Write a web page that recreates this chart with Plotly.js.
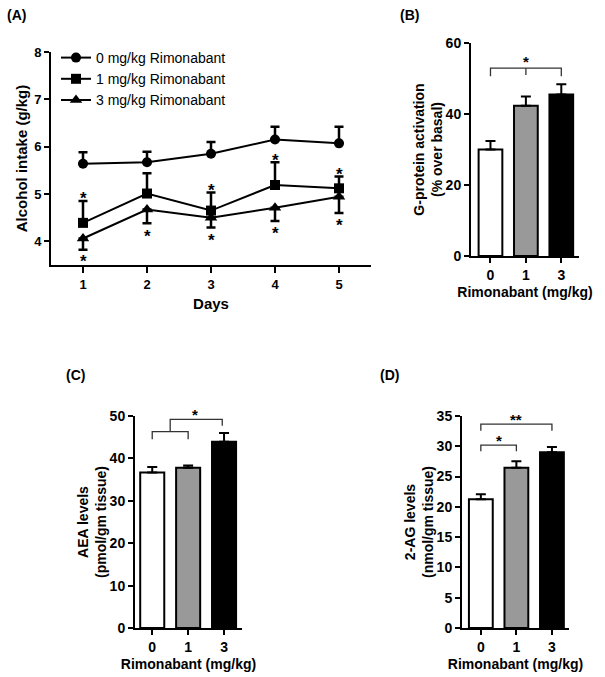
<!DOCTYPE html>
<html>
<head>
<meta charset="utf-8">
<script src="https://cdn.plot.ly/plotly-3.0.1.min.js"></script>
<style>
  html, body { margin: 0; padding: 0; background: #fff; }
  #chart { width: 605px; height: 677px; }
</style>
</head>
<body>
<div id="chart"></div>
<script>
// panel A: alcohol intake per day
const days = [1, 2, 3, 4, 5];
const intake0 = [5.64, 5.67, 5.85, 6.15, 6.07];
const intake0Err = [0.24, 0.22, 0.25, 0.27, 0.35];
const intake1 = [4.39, 5.01, 4.65, 5.19, 5.12];
const intake1Err = [0.46, 0.43, 0.38, 0.48, 0.25];
const intake3 = [4.06, 4.67, 4.50, 4.71, 4.94];
const intake3Err = [0.24, 0.29, 0.21, 0.28, 0.34];
const starsAbove = [4.99, null, 5.15, 5.79, 5.50];
const starsBelow = [3.65, 4.19, 4.11, 4.25, 4.41];

// panels B, C, D: bar charts by dose
const doses = ['0', '1', '3'];
const gProtein = [30.0, 42.3, 45.5];
const gProteinErr = [2.4, 2.6, 2.9];
const aea = [36.7, 37.8, 43.9];
const aeaErr = [1.3, 0.5, 2.1];
const twoAg = [21.25, 26.45, 29.0];
const twoAgErr = [0.85, 1.1, 0.9];

// significance brackets (x path, y path) and their labels
const bracketsB = [
  { x: [0, 0, 2, 2], y: [50.6, 52.9, 52.9, 50.6] },
  { x: [1, 1], y: [52.9, 51.0] }
];
const starsB = [{ x: 1, y: 55.5, text: '*' }];
const bracketsC = [
  { x: [0, 0, 1, 1], y: [44.5, 46.3, 46.3, 44.5] },
  { x: [0.5, 0.5, 1.95, 1.95], y: [46.3, 49.2, 49.2, 47.7] }
];
const starsC = [{ x: 1.2, y: 51.0, text: '*' }];
const bracketsD = [
  { x: [0, 0, 1, 1], y: [29.2, 30.2, 30.2, 29.2] },
  { x: [0, 0, 2, 2], y: [32.55, 33.65, 33.65, 32.55] }
];
const starsD = [{ x: 0.5, y: 31.5, text: '*' }, { x: 1.0, y: 35.0, text: '**' }];

const W = 605, H = 677;
const FONT = 'Arial, "Liberation Sans", sans-serif';
const px = v => v / W;
const py = v => 1 - v / H;
const barColors = ['#ffffff', '#999999', '#000000'];

function lineTrace(y, err, up, symbol, size, name) {
  return {
    x: days, y: y, name: name, type: 'scatter', mode: 'lines+markers',
    xaxis: 'x', yaxis: 'y',
    line: { color: '#000', width: 2 },
    marker: { color: '#000', symbol: symbol, size: size },
    error_y: {
      type: 'data', symmetric: false,
      array: up ? err : err.map(() => 0),
      arrayminus: up ? err.map(() => 0) : err,
      color: '#000', thickness: 2.5, width: 4.5
    }
  };
}

function barTrace(vals, err, ax) {
  return {
    x: [0, 1, 2], y: vals, type: 'bar', showlegend: false,
    xaxis: 'x' + ax, yaxis: 'y' + ax, width: 0.67,
    marker: { color: barColors, line: { color: '#000', width: 2 } },
    error_y: {
      type: 'data', symmetric: false, array: err, arrayminus: err.map(() => 0),
      color: '#000', thickness: 2, width: 5
    }
  };
}

function bracketTraces(list, ax) {
  return list.map(b => ({
    x: b.x, y: b.y, type: 'scatter', mode: 'lines', showlegend: false,
    xaxis: 'x' + ax, yaxis: 'y' + ax, hoverinfo: 'skip', cliponaxis: false,
    line: { color: '#333', width: 1.3 }
  }));
}

const data = [
  lineTrace(intake0, intake0Err, true, 'circle', 10, '0 mg/kg Rimonabant'),
  lineTrace(intake1, intake1Err, true, 'square', 10, '1 mg/kg Rimonabant'),
  lineTrace(intake3, intake3Err, false, 'triangle-up', 11, '3 mg/kg Rimonabant'),
  barTrace(gProtein, gProteinErr, 2),
  barTrace(aea, aeaErr, 3),
  barTrace(twoAg, twoAgErr, 4),
  ...bracketTraces(bracketsB, 2),
  ...bracketTraces(bracketsC, 3),
  ...bracketTraces(bracketsD, 4)
];

const tickFont = { family: FONT, size: 13, weight: 'bold', color: '#000' };
const barTickFont = { family: FONT, size: 14, weight: 'bold', color: '#000' };
const titleFont = { family: FONT, size: 14, weight: 'bold', color: '#000' };

function axisBase(extra) {
  return Object.assign({
    showline: true, linewidth: 2, linecolor: '#000',
    ticks: 'outside', ticklen: 5, tickwidth: 2, tickcolor: '#000',
    showgrid: false, zeroline: false, fixedrange: true,
    tickfont: tickFont
  }, extra);
}

function barX(domain, range, anchor) {
  return axisBase({
    domain: domain, range: range, anchor: anchor,
    tickvals: [0, 1, 2], ticktext: doses, tickfont: barTickFont,
    title: { text: 'Rimonabant (mg/kg)', font: titleFont, standoff: 5 }
  });
}

function barY(domain, range, anchor, ticks, title) {
  return axisBase({
    domain: domain, range: range, anchor: anchor, tickvals: ticks, tickfont: barTickFont,
    title: { text: title, font: titleFont, standoff: 0 }
  });
}

const starFont = { family: FONT, size: 17, weight: 'bold', color: '#000' };
const annotations = [];
days.forEach((d, i) => {
  if (starsAbove[i] !== null) {
    annotations.push({ x: d, y: starsAbove[i], xref: 'x', yref: 'y', text: '*',
      showarrow: false, font: starFont, yshift: -4 });
  }
  annotations.push({ x: d, y: starsBelow[i], xref: 'x', yref: 'y', text: '*',
    showarrow: false, font: starFont, yshift: -4 });
});
// bar-panel stars are placed relative to the axis domain so they can sit above the range
[[starsB, 2, 60], [starsC, 3, 50], [starsD, 4, 35]].forEach(([list, ax, top]) => {
  list.forEach(s => annotations.push({
    x: s.x, y: s.y / top, xref: 'x' + ax, yref: 'y' + ax + ' domain',
    xanchor: 'center', yanchor: 'middle', yshift: -3,
    text: s.text, showarrow: false,
    font: { family: FONT, size: 15, weight: 'bold', color: '#000' }
  }));
});
[['(A)', 16, 15], ['(B)', 409, 15], ['(C)', 75, 375], ['(D)', 389, 375]].forEach(([t, x, y]) => {
  annotations.push({ text: t, x: px(x), y: py(y), xref: 'paper', yref: 'paper',
    xanchor: 'center', yanchor: 'middle', showarrow: false,
    font: { family: FONT, size: 14, weight: 'bold', color: '#000' } });
});

const layout = {
  width: W, height: H,
  margin: { l: 0, r: 0, t: 0, b: 0 },
  paper_bgcolor: '#fff', plot_bgcolor: 'rgba(0,0,0,0)',
  font: { family: FONT, color: '#000' },
  showlegend: true,
  legend: {
    x: px(56), y: py(42), xanchor: 'left', yanchor: 'top',
    bgcolor: 'rgba(0,0,0,0)', tracegroupgap: 0,
    font: { family: FONT, size: 14, color: '#000' }
  },
  xaxis: axisBase({
    domain: [px(51), px(371)], range: [0.5, 5.5], anchor: 'y',
    tickvals: days, ticklen: 6,
    title: { text: 'Days', font: { family: FONT, size: 15, weight: 'bold', color: '#000' }, standoff: 8 }
  }),
  yaxis: axisBase({
    domain: [py(265), py(52)], range: [3.5, 8], anchor: 'x',
    tickvals: [4, 5, 6, 7, 8],
    title: { text: 'Alcohol intake (g/kg)', font: { family: FONT, size: 15, weight: 'bold', color: '#000' }, standoff: 3 }
  }),
  xaxis2: barX([px(471), px(579)], [-0.55, 2.5], 'y2'),
  yaxis2: barY([py(256), py(43)], [0, 60], 'x2', [0, 20, 40, 60], 'G-protein activation<br>(% over basal)'),
  xaxis3: barX([px(135), px(242)], [-0.48, 2.5], 'y3'),
  yaxis3: barY([py(628), py(416)], [0, 50], 'x3', [0, 10, 20, 30, 40, 50], 'AEA levels<br>(pmol/gm tissue)'),
  xaxis4: barX([px(462), px(569)], [-0.53, 2.48], 'y4'),
  yaxis4: barY([py(628), py(416)], [0, 35], 'x4', [0, 5, 10, 15, 20, 25, 30, 35], '2-AG levels<br>(nmol/gm tissue)'),
  annotations: annotations
};

Plotly.newPlot('chart', data, layout, { staticPlot: true, displayModeBar: false })
  .catch(error => console.error('Error rendering chart:', error));
</script>
</body>
</html>
